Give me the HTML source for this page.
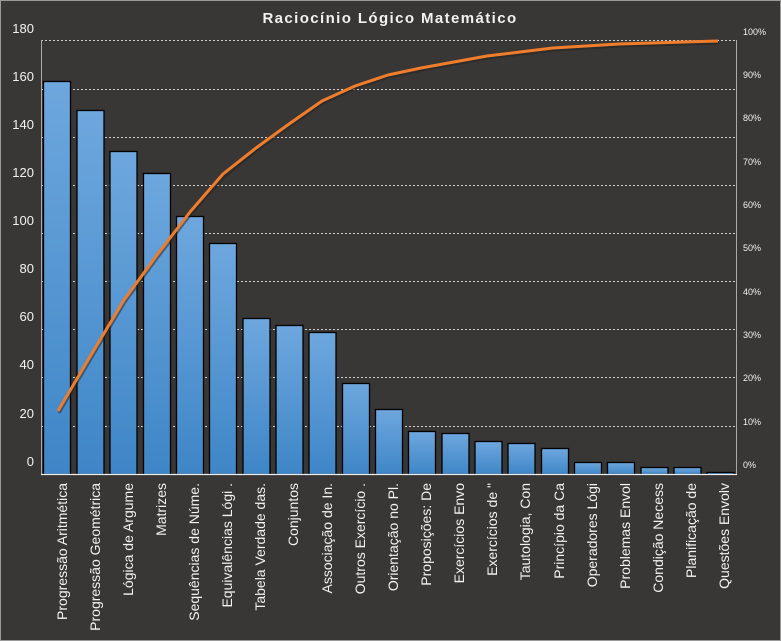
<!DOCTYPE html>
<html><head><meta charset="utf-8"><style>
html,body{margin:0;padding:0;background:#393735}
svg{display:block}
text{font-family:"Liberation Sans","DejaVu Sans",sans-serif;fill:#f2f2f2}
</style></head><body>
<svg width="781" height="641" viewBox="0 0 781 641" xmlns="http://www.w3.org/2000/svg">
<defs>
<linearGradient id="g" x1="0" y1="0" x2="0" y2="1" gradientUnits="objectBoundingBox">
<stop offset="0" stop-color="#6ea7de"/><stop offset="1" stop-color="#3e86c7"/>
</linearGradient>
</defs>
<rect x="0.5" y="0.5" width="780" height="640" fill="#393735" stroke="#9a9a9a"/>
<text x="390" y="23" text-anchor="middle" font-size="15" font-weight="bold" fill="#fff" letter-spacing="1.4">Raciocínio  Lógico Matemático</text>
<g stroke="#cfcfcf" stroke-width="1" stroke-dasharray="2,2">
<line x1="41" y1="40.5" x2="737" y2="40.5"/>
<line x1="41" y1="89.5" x2="737" y2="89.5"/>
<line x1="41" y1="137.5" x2="737" y2="137.5"/>
<line x1="41" y1="185.5" x2="737" y2="185.5"/>
<line x1="41" y1="233.5" x2="737" y2="233.5"/>
<line x1="41" y1="281.5" x2="737" y2="281.5"/>
<line x1="41" y1="329.5" x2="737" y2="329.5"/>
<line x1="41" y1="377.5" x2="737" y2="377.5"/>
<line x1="41" y1="426.5" x2="737" y2="426.5"/>
</g>
<line x1="41.5" y1="40" x2="41.5" y2="474" stroke="#aaa"/>
<line x1="736.5" y1="40" x2="736.5" y2="474" stroke="#aaa"/>
<g font-size="13" text-anchor="end" style="fill:#e0e0e0">
<text x="34" y="33">180</text><text x="34" y="81">160</text><text x="34" y="129">140</text>
<text x="34" y="177">120</text><text x="34" y="225">100</text><text x="34" y="273">80</text>
<text x="34" y="321">60</text><text x="34" y="369">40</text><text x="34" y="418">20</text>
<text x="34" y="466">0</text>
</g>
<g font-size="9" fill="#ddd">
<text x="743" y="35">100%</text><text x="743" y="78">90%</text><text x="743" y="121">80%</text>
<text x="743" y="165">70%</text><text x="743" y="208">60%</text><text x="743" y="251">50%</text>
<text x="743" y="295">40%</text><text x="743" y="338">30%</text><text x="743" y="381">20%</text>
<text x="743" y="425">10%</text><text x="743" y="468">0%</text>
</g>
<g fill="url(#g)" stroke="#000" stroke-width="1.3">
<rect x="43.5" y="81.5" width="27" height="393"/>
<rect x="77" y="110.5" width="27" height="364"/>
<rect x="110" y="151.5" width="27" height="323"/>
<rect x="143.5" y="173.5" width="27" height="301"/>
<rect x="176.5" y="216.5" width="27" height="258"/>
<rect x="209.5" y="243.5" width="27" height="231"/>
<rect x="243" y="318.5" width="27" height="156"/>
<rect x="276" y="325.5" width="27" height="149"/>
<rect x="309" y="332.5" width="27" height="142"/>
<rect x="342.5" y="383.5" width="27" height="91"/>
<rect x="375.5" y="409.5" width="27" height="65"/>
<rect x="408.5" y="431.5" width="27" height="43"/>
<rect x="442" y="433.5" width="27" height="41"/>
<rect x="475" y="441.5" width="27" height="33"/>
<rect x="508" y="443.5" width="27" height="31"/>
<rect x="541.5" y="448.5" width="27" height="26"/>
<rect x="574.5" y="462.5" width="27" height="12"/>
<rect x="607.5" y="462.5" width="27" height="12"/>
<rect x="641" y="467.5" width="27" height="7"/>
<rect x="674" y="467.5" width="27" height="7"/>
<rect x="707" y="472.5" width="27" height="2"/>
</g>
<line x1="41" y1="474.5" x2="737" y2="474.5" stroke="#eee" stroke-width="1.2"/>
<polyline fill="none" stroke="#222" stroke-opacity="0.5" stroke-width="3" points="59,413 92,357 125,302 158,257 191,214 224,177 257,150 290,126 323,103 356,88 389,77 422,70 455,64 488,58 521,54 554,50 587,48 620,46 653,45 686,44 719,43"/>
<polyline fill="none" stroke="#f07d2b" stroke-width="3" stroke-linejoin="round" points="58,411 91,355 124,300 157,255 190,212 223,174 256,148 289,124 322,101 355,86 388,75 421,68 454,62 487,56 520,52 553,48 586,46 619,44 652,43 685,42 718,41"/>
<g font-size="14">
<text transform="translate(67,483) rotate(-90)" text-anchor="end">Progressão Aritmética</text>
<text transform="translate(100,483) rotate(-90)" text-anchor="end">Progressão Geométrica</text>
<text transform="translate(133,483) rotate(-90)" text-anchor="end">Lógica de Argume</text>
<text transform="translate(166,483) rotate(-90)" text-anchor="end">Matrizes</text>
<text transform="translate(199,483) rotate(-90)" text-anchor="end">Sequências de Núme.</text>
<text transform="translate(232,483) rotate(-90)" text-anchor="end">Equivalências Lógi .</text>
<text transform="translate(265,483) rotate(-90)" text-anchor="end">Tabela Verdade das.</text>
<text transform="translate(298,483) rotate(-90)" text-anchor="end">Conjuntos</text>
<text transform="translate(332,483) rotate(-90)" text-anchor="end">Associação de In.</text>
<text transform="translate(365,483) rotate(-90)" text-anchor="end">Outros Exercício .</text>
<text transform="translate(398,483) rotate(-90)" text-anchor="end">Orientação no Pl.</text>
<text transform="translate(431,483) rotate(-90)" text-anchor="end">Proposições: De</text>
<text transform="translate(464,483) rotate(-90)" text-anchor="end">Exercícios Envo</text>
<text transform="translate(497,483) rotate(-90)" text-anchor="end">Exercícios de "</text>
<text transform="translate(530,483) rotate(-90)" text-anchor="end">Tautologia, Con</text>
<text transform="translate(564,483) rotate(-90)" text-anchor="end">Princípio da Ca</text>
<text transform="translate(597,483) rotate(-90)" text-anchor="end">Operadores Lógi</text>
<text transform="translate(630,483) rotate(-90)" text-anchor="end">Problemas Envol</text>
<text transform="translate(663,483) rotate(-90)" text-anchor="end">Condição Necess</text>
<text transform="translate(696,483) rotate(-90)" text-anchor="end">Planificação de</text>
<text transform="translate(729,483) rotate(-90)" text-anchor="end">Questões Envolv</text>
</g>
</svg>
</body></html>
